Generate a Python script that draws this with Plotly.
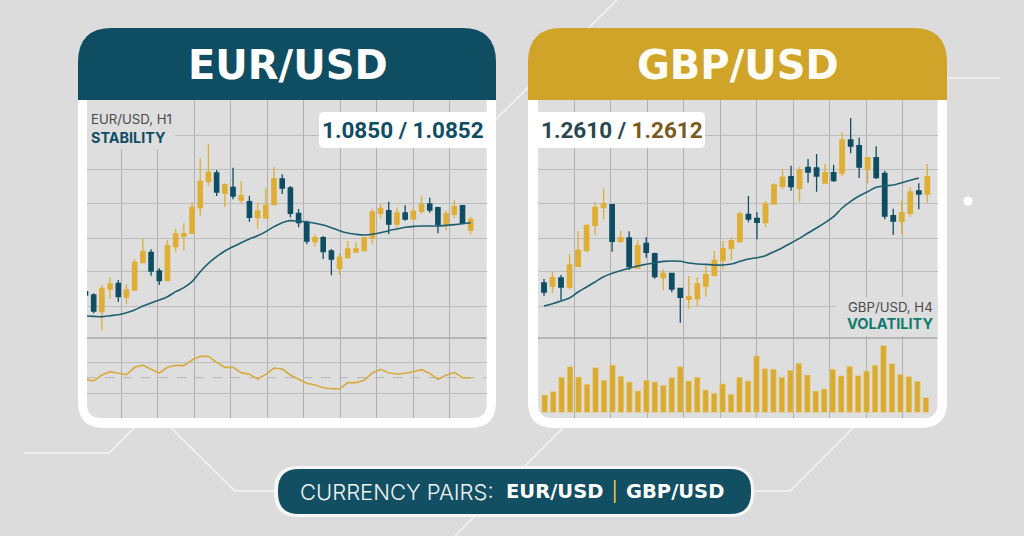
import plotly.graph_objects as go

# ---------- data (chart units) ----------
eur_open = [139,129,79,147,164,123,144,226,257,201,172,274,306,314,391,469,495,434,452,414,409,361,360,400,477,450,374,346,289,301,261,209,241,258,262,301,374,382,342,375,357,380,402,391,338,371,397,324]
eur_high = [149,134,159,182,174,162,236,299,266,209,294,327,344,407,539,582,504,464,511,471,427,406,449,514,491,456,387,352,311,306,267,254,291,288,301,388,402,409,392,398,391,427,421,394,382,414,399,364]
eur_low = [124,74,24,117,108,101,142,226,187,159,171,257,262,312,367,457,426,394,416,404,349,327,359,399,432,362,332,281,274,237,188,189,241,254,262,281,359,311,331,352,356,372,376,314,324,359,342,311]
eur_close = [129,81,149,162,124,144,227,259,201,172,277,312,313,392,470,497,438,460,426,427,362,381,398,478,450,374,346,291,301,259,237,242,267,267,301,378,389,342,375,357,380,400,384,341,372,394,344,356]
eur_ma = [66,65,64,67,70,76,84,96,105,114,124,139,151,169,199,224,244,261,274,286,297,307,319,334,346,352,350,349,344,339,331,322,315,311,309,311,316,322,327,332,335,336,336,336,338,340,343,346]
eur_osc = [116,111,129,139,134,130,152,159,146,135,152,158,157,174,185,185,167,152,152,136,131,117,131,150,147,129,116,104,99,91,88,87,106,106,113,135,146,135,132,134,139,145,134,116,128,137,121,120]
eur_osc_mid = 121
price_grid = [96,199,300,403,506,609]
eur_osc_grid = [74,166]

gbp_open = [165,156,180,152,215,262,338,391,400,290,300,210,284,253,181,194,149,116,118,156,188,233,269,289,371,359,346,402,455,484,449,512,510,465,496,495,594,577,507,541,494,367,350,374,441,432]
gbp_high = [177,198,189,252,321,338,408,449,402,322,320,294,303,256,206,196,149,186,182,216,261,291,302,379,426,377,411,464,506,517,514,537,552,522,520,617,660,601,541,575,502,388,413,452,464,522]
gbp_low = [127,136,114,146,214,258,309,356,259,286,204,207,241,178,144,137,46,86,94,124,184,206,234,286,347,296,332,402,446,442,408,466,439,464,468,486,554,480,464,477,356,309,312,364,386,406]
gbp_close = [138,181,153,219,263,338,392,403,290,301,214,277,257,184,194,147,122,124,162,190,233,268,292,372,357,347,403,459,482,454,503,498,486,496,472,594,576,513,541,481,366,351,376,438,432,484]
gbp_ma = [96,103,111,120,138,153,168,184,194,202,209,216,221,226,230,231,230,225,222,221,219,219,222,230,237,241,247,259,271,285,299,315,330,346,364,390,410,426,439,452,456,459,466,473,480]
gbp_volume = [52,62,105,137,106,84,134,96,142,108,91,64,96,91,81,104,137,94,105,67,57,85,54,105,94,169,131,129,105,126,147,112,64,70,129,109,138,110,124,141,200,146,114,107,93,44]

# ---------- style ----------
W, H = 1024, 536
BG = "#dcdcdc"
INNER = "#dedede"
TEAL = "#0f4d63"
GOLD = "#d0a428"
CANDLE_GOLD = "#dfae34"
GRID_H = "#bdbdbd"
GRID_V = "#b0b0b0"
DARK_LINE = "#8c8c8c"
HEAD_FONT = "Inter"
WIDE_BOLD = "DejaVu Sans"

def px(x): return x / W
def py(y): return 1 - y / H

def round_rect(x0, y0, x1, y1, tl=0, tr=0, br=0, bl=0):
    c = lambda x, y: f"{px(x):.5f},{py(y):.5f}"
    return (f"M{c(x0+tl,y0)} L{c(x1-tr,y0)} Q{c(x1,y0)} {c(x1,y0+tr)} "
            f"L{c(x1,y1-br)} Q{c(x1,y1)} {c(x1-br,y1)} "
            f"L{c(x0+bl,y1)} Q{c(x0,y1)} {c(x0,y1-bl)} "
            f"L{c(x0,y0+tl)} Q{c(x0,y0)} {c(x0+tl,y0)} Z")

shapes = []
def add_path(path, fill, layer="below", line=None, lw=0):
    shapes.append(dict(type="path", path=path, xref="paper", yref="paper", fillcolor=fill,
                       line=dict(color=line or fill, width=lw), layer=layer))
def add_line(pts, color="#f4f4f4", width=1.6, layer="below"):
    d = "M" + " L".join(f"{px(x):.5f},{py(y):.5f}" for x, y in pts)
    shapes.append(dict(type="path", path=d, xref="paper", yref="paper",
                       line=dict(color=color, width=width), layer=layer))

# background decorative lines
add_line([(617, 0), (490, 125)])
add_line([(947, 78), (1000, 78)])
add_line([(135, 427), (109, 453), (24, 453)])
add_line([(170, 427), (235, 491), (274, 491)])
add_line([(564, 427), (455, 536)])
add_line([(854, 427), (790, 491), (751, 491)])
shapes.append(dict(type="circle", xref="paper", yref="paper", x0=px(963.5), x1=px(972.5),
                   y0=py(205.5), y1=py(196.5), fillcolor="#ffffff", line=dict(width=0), layer="below"))

# panels
for x0, x1, ix0, ix1, head in [(78, 496, 87, 486.7, TEAL), (528, 947, 538, 937.5, GOLD)]:
    add_path(round_rect(x0, 60, x1, 428, br=26, bl=26), "#ffffff")
    add_path(round_rect(ix0, 100, ix1, 418, br=14, bl=14), INNER)
    add_path(round_rect(x0, 28, x1, 100, tl=34, tr=34), head, layer="above")

# patches over the grid
add_path(round_rect(87, 100, 175, 149), INNER, layer="above")
add_path(round_rect(836, 297, 937.5, 336), INNER, layer="above")
# price boxes
add_path(round_rect(319, 112, 487, 148, tl=5, bl=5), "#ffffff", layer="above")
add_path(round_rect(538, 112, 705, 148, tr=5, br=5), "#ffffff", layer="above")
# separators
add_line([(87, 338), (486.7, 338)], color=DARK_LINE, width=1.2)
add_line([(538, 338), (937.5, 338)], color=DARK_LINE, width=1.2)
# pill
add_path(round_rect(274, 466, 754, 517, tl=24, tr=24, br=24, bl=24), "#f6f6f6", layer="above")
add_path(round_rect(278, 469, 751, 514, tl=21, tr=21, br=21, bl=21), "#134f63", layer="above")
add_line([(614.8, 480), (614.8, 503)], color="#e0b94f", width=1.8, layer="above")

# ---------- traces ----------
def candle(x_ref, y_ref, o, h, l, c):
    return go.Candlestick(
        x=list(range(len(o))), open=o, high=h, low=l, close=c, xaxis=x_ref, yaxis=y_ref,
        increasing=dict(line=dict(color=CANDLE_GOLD, width=1.3), fillcolor=CANDLE_GOLD),
        decreasing=dict(line=dict(color=TEAL, width=1.3), fillcolor=TEAL),
        whiskerwidth=0, showlegend=False, hoverinfo="skip")

fig = go.Figure()
fig.add_trace(candle("x", "y", eur_open, eur_high, eur_low, eur_close))
fig.add_trace(go.Scatter(x=list(range(len(eur_ma))), y=eur_ma, mode="lines", xaxis="x", yaxis="y",
                         line=dict(color="#1b5f70", width=1.6, shape="spline"), showlegend=False))
fig.add_trace(go.Scatter(x=list(range(len(eur_osc))), y=eur_osc, mode="lines", xaxis="x2", yaxis="y2",
                         line=dict(color="#d8aa3e", width=1.6), showlegend=False))
fig.add_trace(candle("x3", "y3", gbp_open, gbp_high, gbp_low, gbp_close))
fig.add_trace(go.Scatter(x=list(range(len(gbp_ma))), y=gbp_ma, mode="lines", xaxis="x3", yaxis="y3",
                         line=dict(color="#1b5f70", width=1.6, shape="spline"), showlegend=False))
fig.add_trace(go.Bar(x=list(range(len(gbp_volume))), y=gbp_volume, xaxis="x4", yaxis="y4",
                     marker=dict(color="#d9ab33", line=dict(color="#e8cf86", width=0.6)),
                     width=0.67, showlegend=False))
shapes.append(dict(type="line", xref="x2 domain", yref="y2", x0=0, x1=1, y0=eur_osc_mid, y1=eur_osc_mid,
                   line=dict(color="#b5b5b5", width=1, dash="dash"), layer="below"))

# ---------- axes ----------
def x_axis(anchor, left, right, c0, step, grid0):
    return dict(domain=[px(left), px(right)], anchor=anchor,
                range=[(left - c0) / step, (right - c0) / step],
                tickmode="linear", tick0=(grid0 - c0) / step, dtick=36.55 / step,
                showgrid=True, gridcolor=GRID_V, gridwidth=1, zeroline=False,
                showticklabels=False, ticks="", showline=False, rangeslider=dict(visible=False), fixedrange=True)

def y_axis(anchor, top, bottom, rng, vals):
    return dict(domain=[py(bottom), py(top)], anchor=anchor, range=rng,
                tickmode="array", tickvals=vals, showgrid=bool(vals), gridcolor=GRID_H, gridwidth=1,
                zeroline=False, showticklabels=False, ticks="", showline=False, fixedrange=True)

annotations = []
def text(x, y, s, size, color, anchor="center", family=HEAD_FONT, weight="normal"):
    annotations.append(dict(xref="paper", yref="paper", x=px(x), y=py(y), text=s, showarrow=False,
                            xanchor=anchor, yanchor="middle", align=anchor,
                            font=dict(family=family, size=size, color=color, weight=weight)))

text(287.5, 65, "EUR/USD", 40, "#ffffff", family=WIDE_BOLD, weight=700)
text(737.5, 65, "GBP/USD", 40, "#fffdf5", family=WIDE_BOLD, weight=700)
text(89, 119, "EUR/USD, H1", 13.2, "#4a4a4a", "left")
text(89, 137.5, "STABILITY", 14.4, TEAL, "left", weight=700)
text(934.5, 307, "GBP/USD, H4", 13.2, "#4a4a4a", "right")
text(934.5, 324, "VOLATILITY", 14.6, "#127a70", "right", weight=700)
PRICE = "Roboto"
text(403, 130, "1.0850 / 1.0852", 22.5, TEAL, family=PRICE, weight=700)
text(622, 130, '<span style="color:#29474f">1.2610 / </span><span style="color:#7a5c1e">1.2612</span>',
     22.5, "#29474f", family=PRICE, weight=700)
text(298, 491.5, "CURRENCY PAIRS:", 22, "#f0f4f5", "left", weight=300)
text(504, 491.5, "EUR/USD", 19.5, "#ffffff", "left", family=WIDE_BOLD, weight=700)
text(624, 491.5, "GBP/USD", 19.5, "#ffffff", "left", family=WIDE_BOLD, weight=700)

fig.update_layout(
    width=W, height=H, margin=dict(l=0, r=0, t=0, b=0), autosize=False,
    paper_bgcolor=BG, plot_bgcolor="rgba(0,0,0,0)", showlegend=False, boxgap=0.25, bargap=0.33,
    shapes=shapes, annotations=annotations,
    xaxis=x_axis("y", 87, 486.7, 85.5, 8.196, 121),
    yaxis=y_axis("x", 100, 338, [0, 714], price_grid),
    xaxis2=x_axis("y2", 87, 486.7, 85.5, 8.196, 121),
    yaxis2=y_axis("x2", 338, 418, [0, 240], eur_osc_grid),
    xaxis3=x_axis("y3", 538, 937.5, 544, 8.518, 574),
    yaxis3=y_axis("x3", 100, 338, [0, 714], price_grid),
    xaxis4=x_axis("y4", 538, 937.5, 544.7, 8.47, 574),
    yaxis4=y_axis("x4", 338, 418, [-17, 223], []),
)

fig.write_html("out.html", config=dict(displayModeBar=False),
               post_script="document.body.style.margin='0';document.body.style.overflow='hidden';")
